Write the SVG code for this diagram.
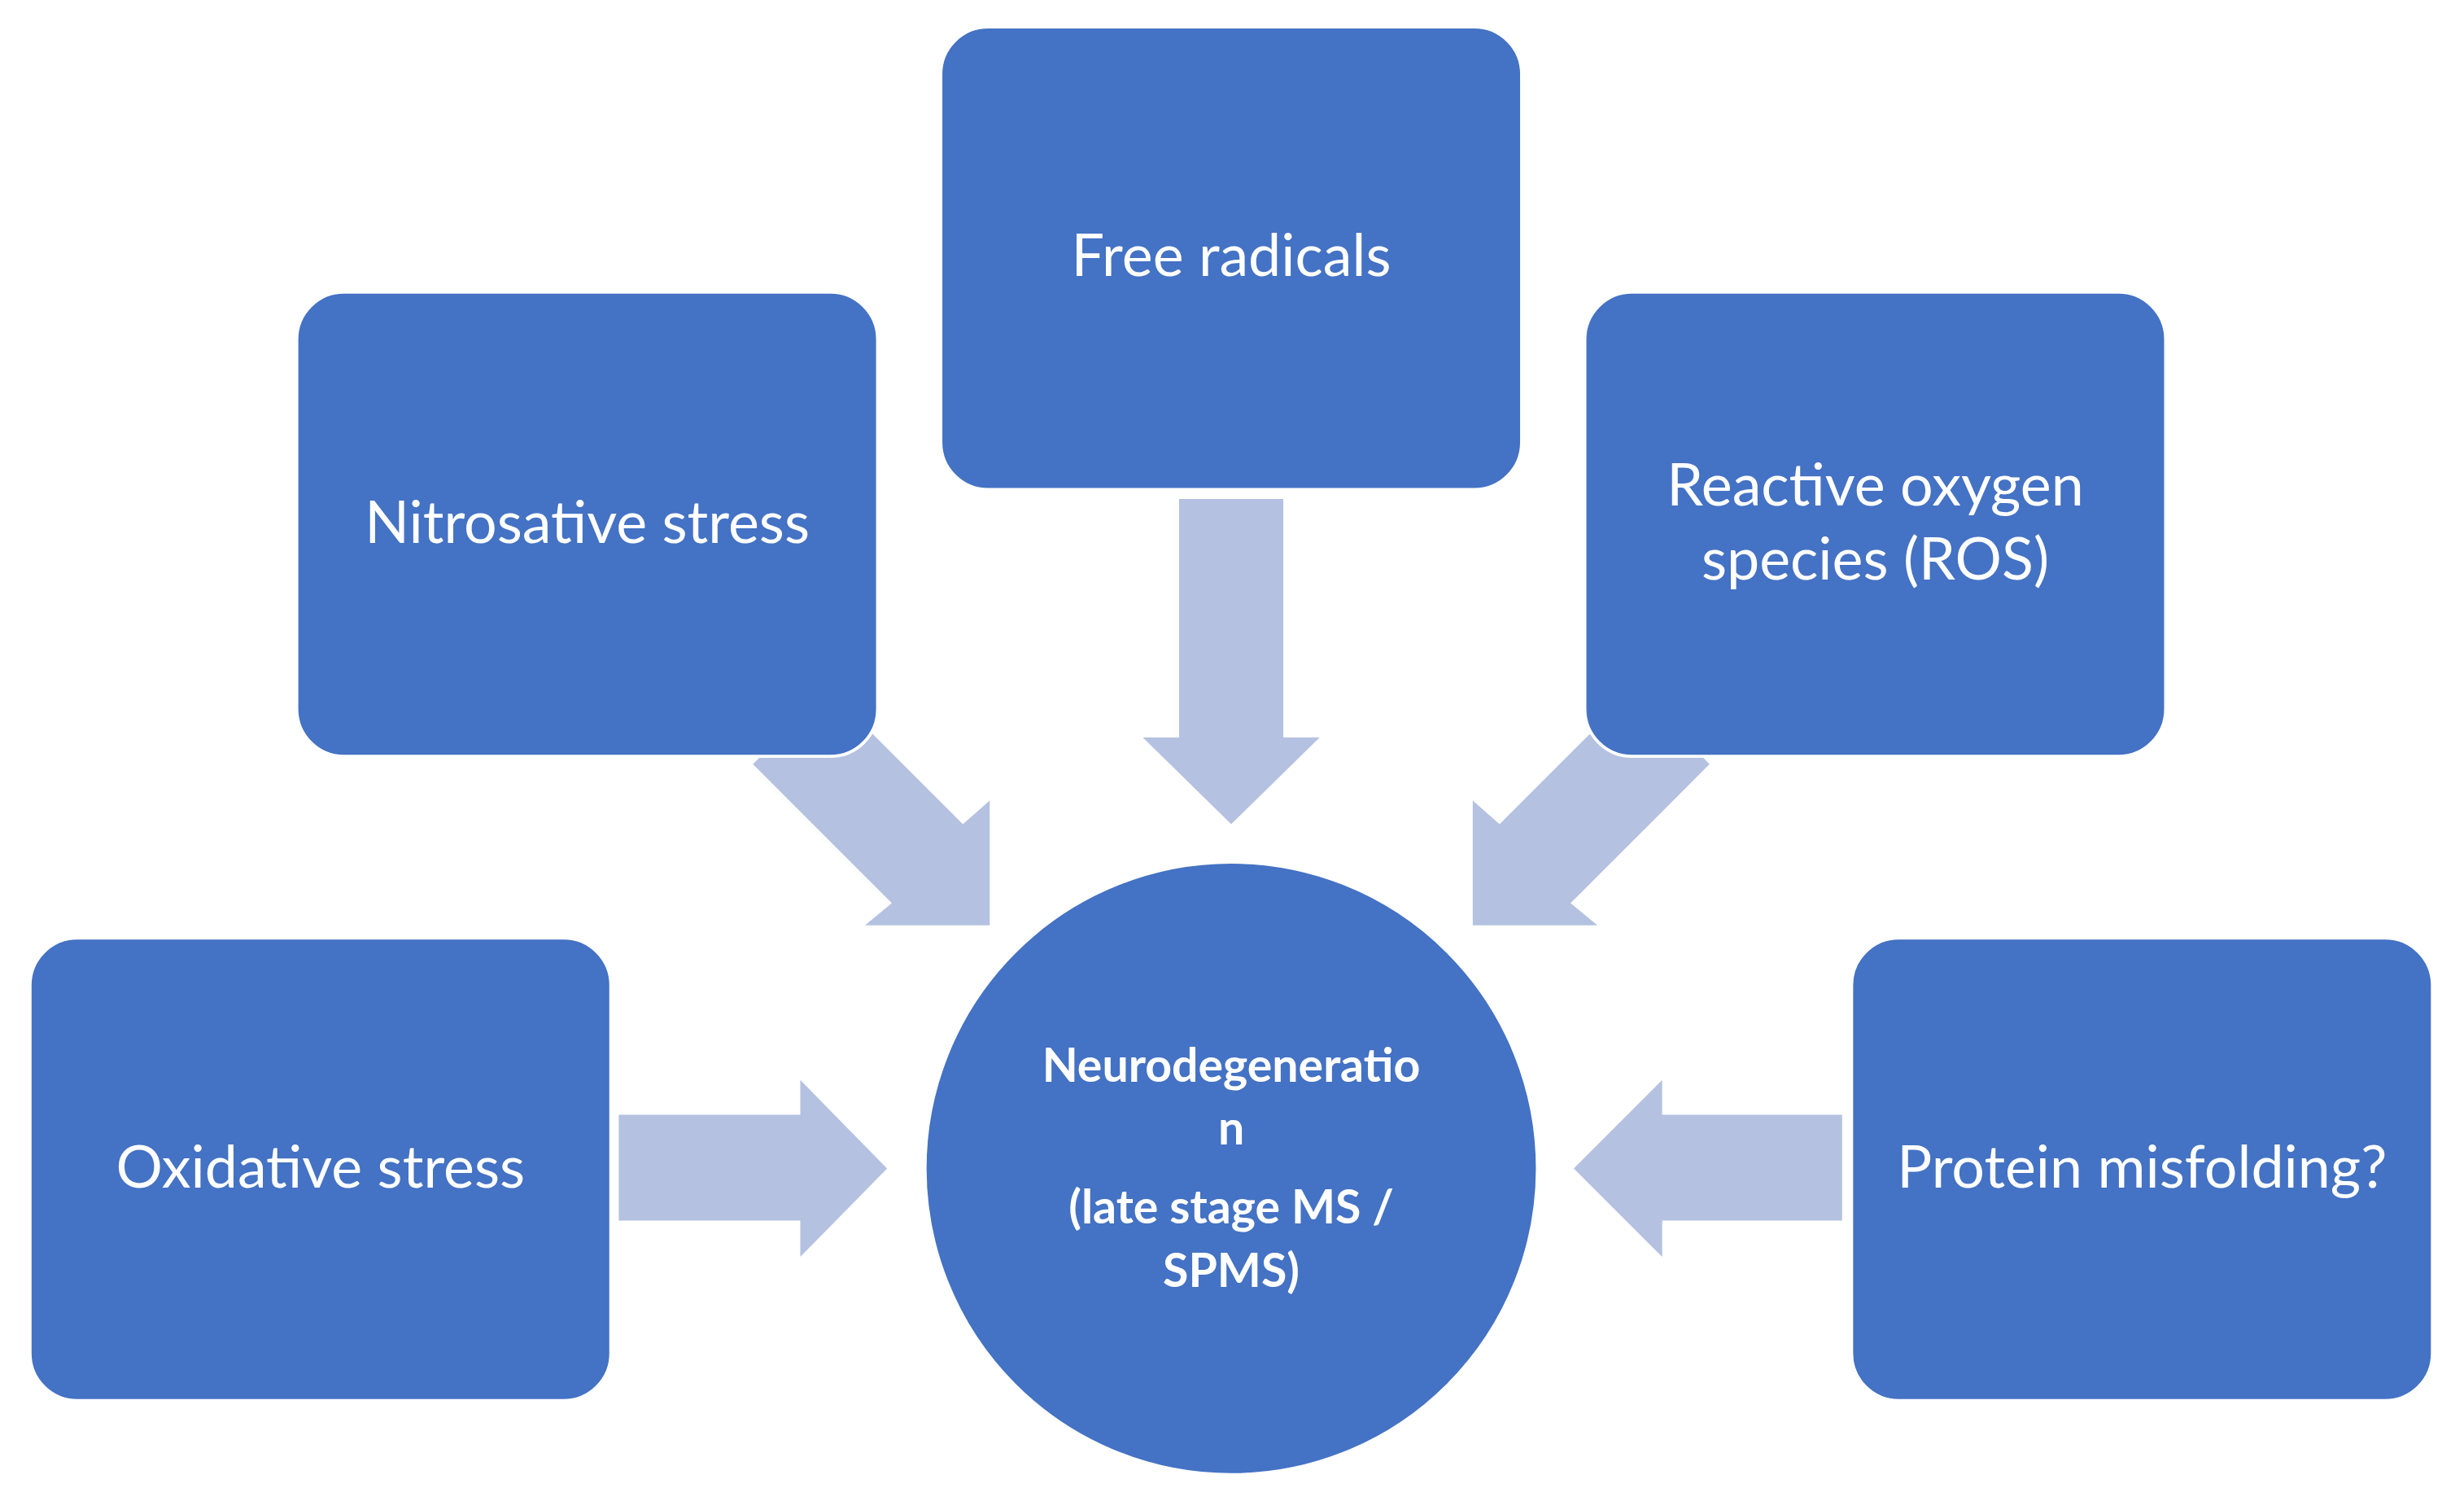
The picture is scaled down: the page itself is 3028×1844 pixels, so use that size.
<svg xmlns="http://www.w3.org/2000/svg" width="3028" height="1844" viewBox="0 0 3028 1844">
<style>
.box{fill:#4472C4;stroke:#fff;stroke-width:2}
.arr{fill:#B4C1E0}
.t{font-family:Lato,"Open Sans",sans-serif;font-size:37px;fill:#fff;text-anchor:middle}
.c{font-family:Lato,"Open Sans",sans-serif;font-size:29.5px;font-weight:bold;fill:#fff;text-anchor:middle}
</style>
<rect width="3028" height="1844" fill="#fff"/>
<g transform="scale(1.9398)">
<g id="connectors">
<polygon class="arr" points="747,316 813,316 813,467 836,467 780,522 724,467 747,467"/>
<polygon class="arr" points="392,706 507,706 507,684 562,740 507,796 507,773 392,773"/>
<polygon class="arr" points="1167,706 1053,706 1053,684 997,740 1053,796 1053,773 1167,773"/>
<polygon class="arr" points="524,436 610,522 627,507 627,586 548,586 565,572 477,484"/>
<polygon class="arr" points="1036,436 950,522 933,507 933,586 1012,586 995,572 1083,484"/>
</g>
<g id="free"><rect class="box" x="596" y="17" width="368" height="293" rx="30"/><text class="t" x="780" y="175">Free radicals</text></g>
<g id="nitro"><rect class="box" x="188" y="185" width="368" height="294" rx="30"/><text class="t" x="372" y="344">Nitrosative stress</text></g>
<g id="ros"><rect class="box" x="1004" y="185" width="368" height="294" rx="30"/><text class="t" x="1188" y="320">Reactive oxygen</text><text class="t" x="1188" y="367">species (ROS)</text></g>
<g id="oxi"><rect class="box" x="19" y="594" width="368" height="293" rx="30"/><text class="t" x="203" y="752">Oxidative stress</text></g>
<g id="prot"><rect class="box" x="1173" y="594" width="368" height="293" rx="30"/><text class="t" x="1357" y="752">Protein misfolding?</text></g>
<g id="neuro"><circle cx="780" cy="740" r="194" fill="#4472C4" stroke="#fff" stroke-width="2"/>
<text class="c" x="780" y="685">Neurodegeneratio</text><text class="c" x="780" y="725">n</text><text class="c" x="780" y="775">(late stage MS /</text><text class="c" x="780" y="815">SPMS)</text></g>
</g>
</svg>
